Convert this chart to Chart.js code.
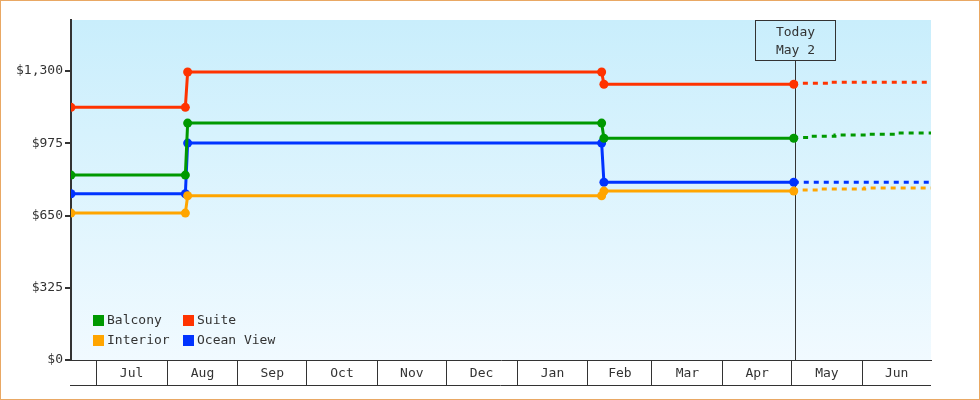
<!DOCTYPE html>
<html><head><meta charset="utf-8">
<script src="https://cdn.jsdelivr.net/npm/chart.js@4/dist/chart.umd.min.js"></script>
<style>html,body{margin:0;padding:0;background:#fff;overflow:hidden}</style>
</head><body>
<canvas id="c" width="980" height="400"></canvas>
<script>
// ---- data ----
const startDate = '2024-06-20';
const endDate = '2025-07-01';
const todayDate = '2025-05-02';
const todayLabel = ['Today', 'May 2'];
const monthStarts = ['2024-07-01','2024-08-01','2024-09-01','2024-10-01','2024-11-01','2024-12-01','2025-01-01','2025-02-01','2025-03-01','2025-04-01','2025-05-01','2025-06-01','2025-07-01'];
const monthLabels = ['Jul','Aug','Sep','Oct','Nov','Dec','Jan','Feb','Mar','Apr','May','Jun'];
const yTicks = [0, 325, 650, 975, 1300];
const yMax = 1530;

const seriesNames = ['Balcony','Suite','Interior','Ocean View'];
const seriesColors = ['#009900','#ff3300','#ffa500','#0033ff'];

const histDates = ['2024-06-20','2024-08-09','2024-08-10','2025-02-07','2025-02-08','2025-05-02'];
const balconyHist  = [832, 832, 1066, 1066, 998, 998];
const suiteHist    = [1137, 1137, 1296, 1296, 1241, 1241];
const interiorHist = [661, 661, 739, 739, 760, 760];
const oceanHist    = [748, 748, 976, 976, 800, 800];

const balconyFcDates  = ['2025-05-02','2025-05-09','2025-05-20','2025-06-03','2025-06-16','2025-06-24','2025-07-01'];
const balconyFc       = [998, 1001, 1007, 1012, 1016, 1021, 1021];
const suiteFcDates    = ['2025-05-02','2025-05-17','2025-06-16','2025-07-01'];
const suiteFc         = [1241, 1245, 1250, 1250];
const interiorFcDates = ['2025-05-02','2025-05-13','2025-06-02','2025-06-21','2025-07-01'];
const interiorFc      = [760, 765, 769, 774, 774];
const oceanFcDates    = ['2025-05-02','2025-07-01'];
const oceanFc         = [800, 800];

// ---- helpers ----
const day = s => Date.parse(s + 'T00:00:00Z') / 86400000;
const pts = (dates, vals) => dates.map((d, i) => ({x: day(d), y: vals[i]}));
const FONT = '13px "DejaVu Sans Mono", monospace';
const INK = '#333333';

const hist = [balconyHist, suiteHist, interiorHist, oceanHist];
const fcD = [balconyFcDates, suiteFcDates, interiorFcDates, oceanFcDates];
const fcV = [balconyFc, suiteFc, interiorFc, oceanFc];

const datasets = [];
seriesNames.forEach((n, i) => {
  datasets.push({
    label: n, data: pts(histDates, hist[i]),
    borderColor: seriesColors[i], backgroundColor: seriesColors[i],
    borderWidth: 3, pointRadius: 4.5, pointStyle: 'circle',
    pointBorderWidth: 0, pointBackgroundColor: seriesColors[i], tension: 0, order: i
  });
});
seriesNames.forEach((n, i) => {
  datasets.push({
    label: n + ' forecast', data: pts(fcD[i], fcV[i]),
    borderColor: seriesColors[i], borderWidth: 3, borderDash: [5, 5],
    pointRadius: 0, stepped: 'after', order: 10 + i
  });
});

const decor = {
  id: 'decor',
  beforeDraw(chart) {
    const {ctx, chartArea: a} = chart;
    ctx.save();
    ctx.fillStyle = '#ffffff';
    ctx.fillRect(0, 0, chart.width, chart.height);
    const g = ctx.createLinearGradient(0, a.top, 0, a.bottom);
    g.addColorStop(0, '#c9eefc');
    g.addColorStop(1, '#f1faff');
    ctx.fillStyle = g;
    ctx.fillRect(a.left, a.top, a.right - a.left, a.bottom - a.top);
    ctx.restore();
  },
  beforeDatasetsDraw(chart) {
    const {ctx, chartArea: a, scales: {x}} = chart;
    const tx = Math.round(x.getPixelForValue(day(todayDate))) + 1.5;
    ctx.save();
    ctx.strokeStyle = INK; ctx.lineWidth = 1;
    ctx.strokeRect(tx - 40, a.top + 0.5, 80, 40);
    ctx.beginPath(); ctx.moveTo(tx, a.top + 40.5); ctx.lineTo(tx, a.bottom); ctx.stroke();
    ctx.fillStyle = INK; ctx.font = FONT; ctx.textAlign = 'center'; ctx.textBaseline = 'middle';
    ctx.fillText(todayLabel[0], tx, a.top + 13);
    ctx.fillText(todayLabel[1], tx, a.top + 31);
    ctx.restore();
  },
  afterDraw(chart) {
    const {ctx, chartArea: a, scales: {x}} = chart;
    ctx.save();
    // legend
    ctx.font = FONT; ctx.textBaseline = 'middle'; ctx.textAlign = 'left';
    seriesNames.forEach((n, i) => {
      const col = i % 2, row = Math.floor(i / 2);
      const bx = a.left + 22 + col * 90, by = a.bottom - 45 + row * 20;
      ctx.fillStyle = seriesColors[i];
      ctx.fillRect(bx, by, 11, 11);
      ctx.fillStyle = INK;
      ctx.fillText(n, bx + 14, by + 6);
    });
    // month labels
    ctx.textAlign = 'center';
    for (let i = 0; i < monthLabels.length; i++) {
      const p0 = x.getPixelForValue(day(monthStarts[i]));
      const p1 = x.getPixelForValue(day(monthStarts[i + 1]));
      ctx.fillText(monthLabels[i], (p0 + p1) / 2, a.bottom + 14);
    }
    // bottom line of axis
    ctx.strokeStyle = INK; ctx.lineWidth = 1;
    ctx.beginPath(); ctx.moveTo(a.left - 1, a.bottom + 25.5); ctx.lineTo(a.right, a.bottom + 25.5); ctx.stroke();
    // outer border
    ctx.strokeStyle = '#e9a864';
    ctx.strokeRect(0.5, 0.5, chart.width - 1, chart.height - 1);
    ctx.restore();
  }
};

new Chart(document.getElementById('c'), {
  type: 'line',
  data: {datasets},
  options: {
    responsive: false, animation: false, devicePixelRatio: 1,
    layout: {padding: {top: 20, right: 49, left: 0, bottom: 0}},
    plugins: {legend: {display: false}, tooltip: {enabled: false}},
    scales: {
      x: {
        type: 'linear', min: day(startDate), max: day(endDate),
        afterBuildTicks: s => { s.ticks = monthStarts.slice(0, 12).map(d => ({value: day(d)})); },
        afterFit: s => { s.height = 40; },
        ticks: {callback: () => '', font: {size: 1}},
        grid: {drawOnChartArea: false, drawTicks: true, tickLength: 25, color: INK, lineWidth: 1},
        border: {display: true, color: INK, width: 1}
      },
      y: {
        min: 0, max: yMax,
        afterBuildTicks: s => { s.ticks = yTicks.map(v => ({value: v})); },
        afterFit: s => { s.width = 71; },
        ticks: {callback: v => '$' + v.toLocaleString('en-US'), color: INK, font: {family: '"DejaVu Sans Mono", monospace', size: 13}, padding: 2},
        grid: {drawOnChartArea: false, tickLength: 6, color: INK, lineWidth: 2},
        border: {display: true, color: INK, width: 2}
      }
    }
  },
  plugins: [decor]
});
</script>
</body></html>
